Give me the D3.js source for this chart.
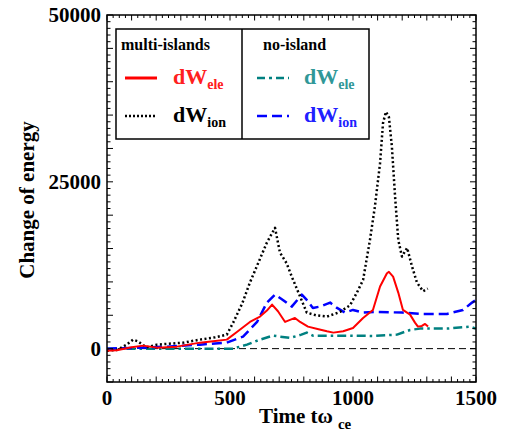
<!DOCTYPE html>
<html>
<head>
<meta charset="utf-8">
<script src="https://cdn.jsdelivr.net/npm/d3@7"></script>
<style>
  body { margin: 0; background: #fff; }
  svg text { font-family: "Liberation Serif", "Times New Roman", serif; font-weight: bold; }
</style>
</head>
<body>
<div id="container"></div>
<script>
// time axis (t omega_ce) and energy values
const multiIonT = [0, 40, 80, 106, 125, 160, 203, 310, 378, 440, 487, 513, 550, 581, 620, 650, 683, 703, 730, 751, 785, 812, 850, 894, 947, 988, 1016, 1041, 1069, 1089, 1110, 1122, 1134, 1146, 1158, 1171, 1184, 1199, 1220, 1240, 1260, 1285, 1304]
const multiIonV = [-300, -200, 600, 1350, 1100, 200, 600, 900, 1350, 1700, 2100, 3900, 6800, 9900, 13300, 15900, 18100, 14400, 12800, 10800, 7800, 5400, 5000, 4800, 5500, 6500, 8400, 10300, 16300, 21300, 27800, 33800, 35500, 34700, 30300, 22800, 16300, 13800, 15100, 12300, 9900, 8600, 9000]

const multiEleT = [0, 40, 100, 147, 203, 284, 378, 431, 487, 528, 581, 622, 650, 671, 695, 724, 764, 785, 817, 860, 894, 920, 960, 1000, 1041, 1081, 1110, 1138, 1146, 1163, 1184, 1203, 1232, 1252, 1264, 1280, 1293, 1305]
const multiEleV = [-300, -250, 200, 450, 150, 300, 900, 1100, 1350, 2500, 4000, 4800, 5700, 6600, 5600, 4000, 4600, 4000, 3300, 2900, 2600, 2400, 2600, 3100, 4600, 5800, 9300, 11300, 11500, 10800, 8400, 5800, 5100, 3900, 3300, 3400, 3700, 3300]

const noIonT = [0, 100, 244, 378, 487, 553, 610, 650, 683, 715, 751, 792, 812, 837, 866, 907, 935, 967, 1000, 1040, 1100, 1200, 1285, 1382, 1447, 1484, 1500]
const noIonV = [0, 100, 300, 600, 900, 1800, 4000, 6900, 8100, 7300, 6300, 8100, 7300, 6100, 6300, 6900, 6100, 5400, 5800, 5400, 5500, 5400, 5200, 5200, 5800, 6900, 7300]

const noEleT = [0, 200, 400, 513, 569, 622, 675, 703, 744, 790, 812, 837, 900, 988, 1080, 1179, 1232, 1272, 1382, 1476, 1500]
const noEleV = [0, 0, 0, 0, 600, 1350, 1950, 1800, 1600, 2100, 2400, 1950, 1950, 1950, 1900, 2100, 2800, 3000, 3000, 3300, 3000]

const xTicks = [0, 500, 1000, 1500]
const yTicks = [0, 25000, 50000]

const width = 507
const height = 432
const margin = { left: 107, right: 31, top: 15, bottom: 50 }

const svg = d3.select('#container')
  .append('svg')
  .attr('width', width)
  .attr('height', height)

const x = d3.scaleLinear().domain([0, 1500]).range([margin.left, width - margin.right])
const y = d3.scaleLinear().domain([-5000, 50000]).range([height - margin.bottom, margin.top])

const x0 = x.range()[0]
const x1 = x.range()[1]
const y0 = y.range()[0]
const y1 = y.range()[1]

// zero line
svg.append('line')
  .attr('x1', x0).attr('x2', x1)
  .attr('y1', y(0)).attr('y2', y(0))
  .attr('stroke', '#000')
  .attr('stroke-width', 1)
  .attr('stroke-dasharray', '7,4')

// series
const series = [
  { t: noEleT, v: noEleV, color: '#008080', width: 2.5, dash: '9,4,2.5,4' },
  { t: noIonT, v: noIonV, color: '#0000ff', width: 2.5, dash: '10,5' },
  { t: multiIonT, v: multiIonV, color: '#000000', width: 2.5, dash: '2,2.5' },
  { t: multiEleT, v: multiEleV, color: '#ff0000', width: 2, dash: null }
]

const line = d3.line()
  .x(d => x(d[0]))
  .y(d => y(d[1]))

series.forEach(function (s) {
  const pts = s.t.map((t, i) => [t, s.v[i]])
  svg.append('path')
    .attr('d', line(pts))
    .attr('fill', 'none')
    .attr('stroke', s.color)
    .attr('stroke-width', s.width)
    .attr('stroke-linejoin', 'round')
    .attr('stroke-dasharray', s.dash)
})

// frame
svg.append('rect')
  .attr('x', x0).attr('y', y1)
  .attr('width', x1 - x0).attr('height', y0 - y1)
  .attr('fill', 'none')
  .attr('stroke', '#000')
  .attr('stroke-width', 1.5)

// ticks on all four sides, pointing inward
const tickG = svg.append('g').attr('stroke', '#000').attr('stroke-width', 1)
d3.range(0, 1501, 25).forEach(function (t) {
  const len = t % 100 === 0 ? 5.5 : 3
  tickG.append('line').attr('x1', x(t)).attr('x2', x(t)).attr('y1', y0).attr('y2', y0 - len)
  tickG.append('line').attr('x1', x(t)).attr('x2', x(t)).attr('y1', y1).attr('y2', y1 + len)
})
d3.range(-5000, 50001, 1000).forEach(function (v) {
  const len = v % 5000 === 0 ? 6 : 3.5
  tickG.append('line').attr('x1', x0).attr('x2', x0 + len).attr('y1', y(v)).attr('y2', y(v))
  tickG.append('line').attr('x1', x1).attr('x2', x1 - len).attr('y1', y(v)).attr('y2', y(v))
})

// tick labels
svg.selectAll('.xlab')
  .data(xTicks)
  .enter()
  .append('text')
  .attr('class', 'xlab')
  .attr('x', d => x(d))
  .attr('y', 405)
  .attr('text-anchor', 'middle')
  .attr('font-size', 21)
  .text(d => d)

svg.selectAll('.ylab')
  .data(yTicks)
  .enter()
  .append('text')
  .attr('class', 'ylab')
  .attr('x', 101)
  .attr('y', d => y(d) + 7)
  .attr('text-anchor', 'end')
  .attr('font-size', 21)
  .text(d => d)

// axis titles
const xt = svg.append('text')
  .attr('x', 259)
  .attr('y', 423)
  .attr('font-size', 21)
xt.append('tspan').text('Time tω')
xt.append('tspan').attr('dx', 5).attr('dy', 6).attr('font-size', 15).text('ce')

svg.append('text')
  .attr('transform', 'translate(34,200) rotate(-90)')
  .attr('text-anchor', 'middle')
  .attr('font-size', 21)
  .text('Change of energy')

// legend
const lg = svg.append('g')
lg.append('rect')
  .attr('x', 116).attr('y', 29)
  .attr('width', 253).attr('height', 110)
  .attr('fill', '#fff')
  .attr('stroke', '#000')
  .attr('stroke-width', 1.5)
lg.append('line')
  .attr('x1', 242).attr('x2', 242).attr('y1', 29).attr('y2', 139)
  .attr('stroke', '#000').attr('stroke-width', 1.5)

lg.append('text').attr('x', 121).attr('y', 50).attr('font-size', 16).text('multi-islands')
lg.append('text').attr('x', 263).attr('y', 50).attr('font-size', 16).text('no-island')

const legendItems = [
  { lx: 125, ly: 78, tx: 173, color: '#ff0000', text: '#ff2020', width: 3, dash: null, sub: 'ele' },
  { lx: 125, ly: 116, tx: 173, color: '#000000', text: '#000000', width: 2.5, dash: '2,2', sub: 'ion' },
  { lx: 257, ly: 78, tx: 304, color: '#008080', text: '#309898', width: 2.5, dash: '8,4,3,4', sub: 'ele' },
  { lx: 257, ly: 116, tx: 304, color: '#0000ff', text: '#2020ff', width: 2.5, dash: '10,5', sub: 'ion' }
]
legendItems.forEach(function (d) {
  lg.append('line')
    .attr('x1', d.lx).attr('x2', d.lx + 32)
    .attr('y1', d.ly).attr('y2', d.ly)
    .attr('stroke', d.color)
    .attr('stroke-width', d.width)
    .attr('stroke-dasharray', d.dash)
  const t = lg.append('text')
    .attr('x', d.tx)
    .attr('y', d.ly + 6)
    .attr('font-size', 22)
    .attr('fill', d.text)
  t.append('tspan').text('dW')
  t.append('tspan').attr('dy', 5).attr('font-size', 14).text(d.sub)
})
</script>
</body>
</html>
